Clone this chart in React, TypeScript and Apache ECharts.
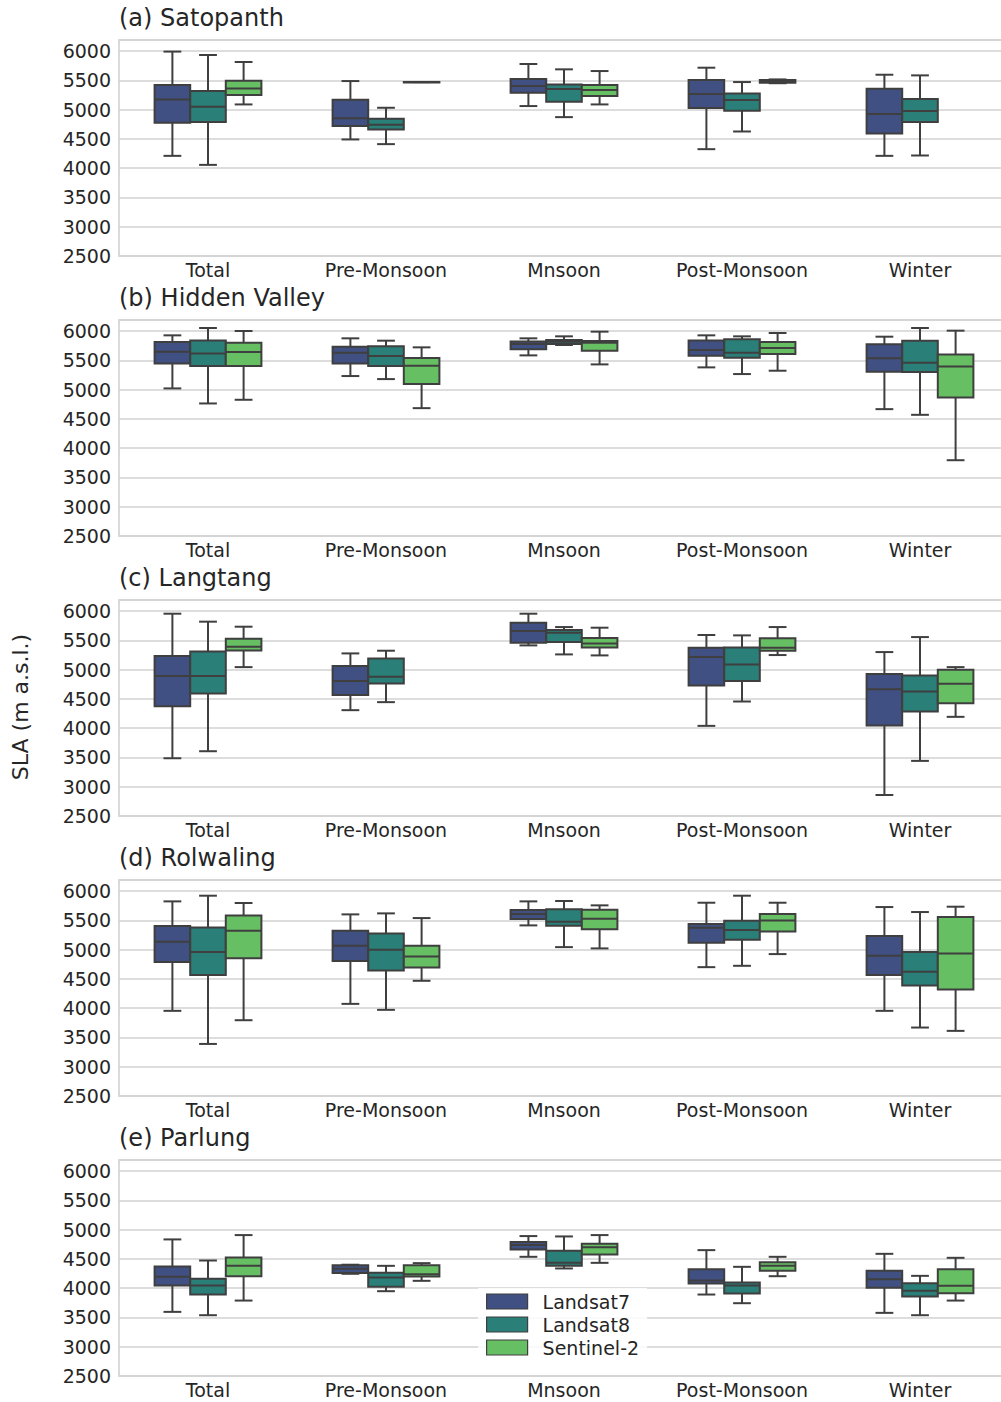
import React, { useEffect, useRef } from 'react';
import * as echarts from 'echarts';

const categories = ['Total', 'Pre-Monsoon', 'Mnsoon', 'Post-Monsoon', 'Winter'];
const sensorNames = ['Landsat7', 'Landsat8', 'Sentinel-2'];
const sensorColors = ['#415083', '#2a7f78', '#67bf64'];
const panelTitles = ['(a) Satopanth', '(b) Hidden Valley', '(c) Langtang', '(d) Rolwaling', '(e) Parlung'];
const yTickValues = [2500, 3000, 3500, 4000, 4500, 5000, 5500, 6000];

// each entry: [min, q1, median, q3, max] per category, null where absent
type Box = number[] | null;

const satopanthLandsat7: Box[] = [[4210, 4775, 5174, 5419, 5990], [4490, 4718, 4854, 5168, 5487], [5060, 5288, 5402, 5521, 5778], [4324, 5025, 5265, 5504, 5715], [4210, 4592, 4923, 5356, 5595]];
const satopanthLandsat8: Box[] = [[4056, 4786, 5048, 5316, 5932], [4410, 4660, 4740, 4843, 5031], [4871, 5134, 5350, 5430, 5687], [4626, 4980, 5162, 5276, 5470], [4216, 4786, 4974, 5179, 5584]];
const satopanthSentinel2: Box[] = [[5088, 5248, 5362, 5493, 5812], [5470, 5470, 5470, 5470, 5470], [5088, 5231, 5333, 5419, 5658], [5450, 5460, 5480, 5505, 5515], null];

const hiddenValleyLandsat7: Box[] = [[5020, 5447, 5647, 5812, 5926], [5231, 5447, 5630, 5732, 5875], [5584, 5687, 5778, 5823, 5875], [5379, 5578, 5675, 5840, 5926], [4666, 5305, 5533, 5772, 5903]];
const hiddenValleyLandsat8: Box[] = [[4763, 5402, 5618, 5840, 6051], [5179, 5402, 5573, 5738, 5835], [5761, 5778, 5818, 5846, 5909], [5265, 5544, 5630, 5858, 5909], [4569, 5299, 5459, 5835, 6051]];
const hiddenValleySentinel2: Box[] = [[4826, 5402, 5641, 5800, 6000], [4683, 5094, 5407, 5538, 5721], [5430, 5664, 5800, 5829, 5989], [5322, 5607, 5709, 5812, 5966], [3794, 4866, 5396, 5601, 6006]];

const langtangLandsat7: Box[] = [[3486, 4376, 4889, 5231, 5954], [4307, 4564, 4803, 5060, 5276], [5413, 5459, 5658, 5800, 5954], [4039, 4729, 5213, 5373, 5590], [2859, 4045, 4666, 4923, 5299]];
const langtangLandsat8: Box[] = [[3606, 4592, 4889, 5310, 5818], [4444, 4763, 4877, 5191, 5322], [5259, 5470, 5630, 5675, 5726], [4455, 4803, 5088, 5379, 5584], [3441, 4284, 4626, 4900, 5555]];
const langtangSentinel2: Box[] = [[5042, 5327, 5390, 5527, 5732], null, [5242, 5379, 5447, 5538, 5715], [5248, 5322, 5373, 5533, 5726], [4193, 4427, 4757, 4997, 5042]];

const rolwalingLandsat7: Box[] = [[3954, 4786, 5134, 5402, 5823], [4073, 4803, 5065, 5322, 5601], [5413, 5521, 5607, 5675, 5823], [4700, 5117, 5373, 5436, 5800], [3954, 4564, 4894, 5231, 5726]];
const rolwalingLandsat8: Box[] = [[3389, 4564, 4957, 5379, 5920], [3971, 4643, 4997, 5276, 5618], [5042, 5407, 5476, 5687, 5829], [4723, 5168, 5333, 5493, 5920], [3669, 4387, 4621, 4957, 5641]];
const rolwalingSentinel2: Box[] = [[3794, 4854, 5322, 5584, 5795], [4467, 4695, 4883, 5065, 5538], [5020, 5345, 5527, 5681, 5755], [4923, 5310, 5498, 5607, 5800], [3612, 4318, 4934, 5555, 5732]];

const parlungLandsat7: Box[] = [[3595, 4045, 4193, 4370, 4832], [4245, 4260, 4330, 4390, 4400], [4535, 4660, 4735, 4786, 4889], [3891, 4079, 4130, 4324, 4649], [3578, 4005, 4153, 4296, 4586]];
const parlungLandsat8: Box[] = [[3538, 3891, 4045, 4159, 4472], [3948, 4022, 4182, 4262, 4381], [4336, 4381, 4432, 4638, 4883], [3743, 3908, 4045, 4096, 4364], [3538, 3857, 3954, 4085, 4210]];
const parlungSentinel2: Box[] = [[3788, 4204, 4381, 4524, 4906], [4125, 4199, 4239, 4393, 4427], [4432, 4575, 4700, 4757, 4906], [4204, 4296, 4381, 4444, 4535], [3788, 3914, 4039, 4324, 4518]];

const panels: Box[][][] = [
  [satopanthLandsat7, satopanthLandsat8, satopanthSentinel2],
  [hiddenValleyLandsat7, hiddenValleyLandsat8, hiddenValleySentinel2],
  [langtangLandsat7, langtangLandsat8, langtangSentinel2],
  [rolwalingLandsat7, rolwalingLandsat8, rolwalingSentinel2],
  [parlungLandsat7, parlungLandsat8, parlungSentinel2],
];

const FONT = 'DejaVu Sans';
const TXT = '#262626';
const EDGE = '#3f3f3f';
const GRIDC = '#d2d2d2';

export default function App() {
  const ref = useRef<HTMLDivElement>(null);
  useEffect(() => {
    if (!ref.current) return;
    const chart = echarts.init(ref.current, null, { renderer: 'svg' });
    const top0 = 40;
    const step = 280;
    const ph = 216;

    const grids = panels.map((_, i) => ({
      left: 119, top: top0 + step * i, width: 890, height: ph,
      show: true, borderColor: GRIDC, borderWidth: 1.6, backgroundColor: 'transparent',
    }));
    const xAxes = panels.map((_, i) => ({
      type: 'category', gridIndex: i, data: categories,
      axisLine: { show: false }, axisTick: { show: false },
      axisLabel: { color: TXT, fontSize: 19, fontFamily: FONT, margin: 4, interval: 0 },
      splitLine: { show: false },
    }));
    const yAxes = panels.map((_, i) => ({
      type: 'value', gridIndex: i, min: yTickValues[0], max: 6188, interval: 500,
      axisLine: { show: false }, axisTick: { show: false },
      axisLabel: {
        color: TXT, fontSize: 19, fontFamily: FONT, margin: 8,
        formatter: (v: number) => (yTickValues.indexOf(v) >= 0 ? String(v) : ''),
      },
      splitLine: { lineStyle: { color: GRIDC, width: 1.6 } },
    }));

    const makeRender = (s: number, color: string) => (params: any, api: any) => {
      const cat = api.value(0);
      const bw = api.size([1, 0])[0];
      const w = bw * 0.2;
      const pMed = api.coord([cat, api.value(3)]);
      const cx = pMed[0] + (s - 1) * w;
      const yMin = api.coord([cat, api.value(1)])[1];
      const yQ1 = api.coord([cat, api.value(2)])[1];
      const yMed = pMed[1];
      const yQ3 = api.coord([cat, api.value(4)])[1];
      const yMax = api.coord([cat, api.value(5)])[1];
      const ls = { stroke: EDGE, lineWidth: 2, fill: null };
      return {
        type: 'group',
        children: [
          { type: 'line', shape: { x1: cx, y1: yMax, x2: cx, y2: yQ3 }, style: ls },
          { type: 'line', shape: { x1: cx, y1: yQ1, x2: cx, y2: yMin }, style: ls },
          { type: 'line', shape: { x1: cx - w / 4, y1: yMax, x2: cx + w / 4, y2: yMax }, style: ls },
          { type: 'line', shape: { x1: cx - w / 4, y1: yMin, x2: cx + w / 4, y2: yMin }, style: ls },
          { type: 'rect', shape: { x: cx - w / 2, y: yQ3, width: w, height: Math.max(yQ1 - yQ3, 0.5) }, style: { fill: color, stroke: EDGE, lineWidth: 2 } },
          { type: 'line', shape: { x1: cx - w / 2, y1: yMed, x2: cx + w / 2, y2: yMed }, style: ls },
        ],
      };
    };

    const series: any[] = [];
    panels.forEach((panel, i) => {
      panel.forEach((boxes, s) => {
        const data = boxes
          .map((b, ci) => (b ? [ci, b[0], b[1], b[2], b[3], b[4]] : null))
          .filter((d) => d !== null);
        series.push({
          type: 'custom', name: sensorNames[s], xAxisIndex: i, yAxisIndex: i,
          itemStyle: { color: sensorColors[s] },
          encode: { x: 0, y: [1, 2, 3, 4, 5] },
          renderItem: makeRender(s, sensorColors[s]),
          data,
          z: 3,
        });
      });
    });

    const titles = panelTitles.map((t, i) => ({
      text: t, left: 119, top: 6 + step * i, padding: 0,
      textStyle: { fontSize: 24, fontWeight: 'normal', color: TXT, fontFamily: FONT },
    }));

    chart.setOption({
      animation: false,
      backgroundColor: '#ffffff',
      title: titles,
      grid: grids,
      xAxis: xAxes,
      yAxis: yAxes,
      legend: {
        data: sensorNames, orient: 'vertical', left: 478, top: 1288,
        itemWidth: 41, itemHeight: 15, itemGap: 4, icon: 'rect',
        padding: [4, 8, 5, 8], backgroundColor: 'rgba(255,255,255,0.85)',
        selectedMode: false,
        itemStyle: { borderColor: EDGE, borderWidth: 1.2 },
        textStyle: { fontSize: 19, color: TXT, fontFamily: FONT, padding: [0, 0, 0, 10] },
      },
      graphic: [{
        type: 'text', x: 20, y: 707, rotation: Math.PI / 2,
        style: { text: 'SLA (m a.s.l.)', fontSize: 22, fill: TXT, fontFamily: FONT, align: 'center', verticalAlign: 'middle' },
      }],
      series,
    });
    return () => chart.dispose();
  }, []);
  return (
    <div style={{ position: 'absolute', left: 0, top: 0, width: 1001, height: 1402, overflow: 'hidden', background: '#fff' }}>
      <div ref={ref} style={{ width: 1010, height: 1402 }} />
    </div>
  );
}
